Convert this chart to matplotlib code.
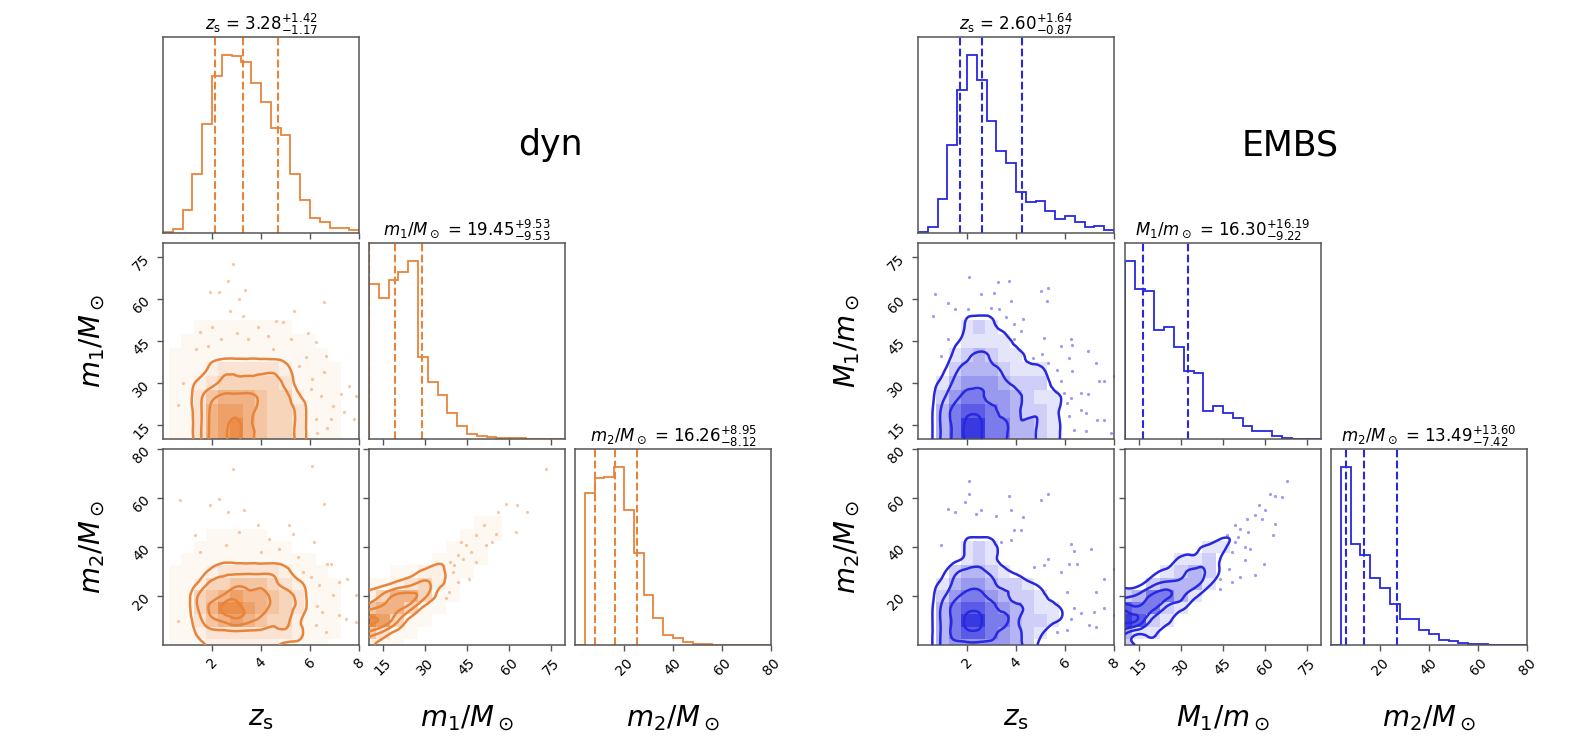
import numpy as np
import matplotlib.pyplot as plt
import matplotlib.tri as mtri
from matplotlib.colors import LinearSegmentedColormap

# ---- 1D marginals: 20 bins each (heights) ----
DYN_Z_HIST = [2, 12, 68, 178, 328, 472, 535, 532, 512, 450, 392, 315, 295, 178, 100, 45, 32, 14, 14, 8]
DYN_M1_HIST = [466, 423, 478, 501, 535, 245, 171, 131, 78, 38, 16, 8, 5, 4, 3, 2, 1, 0, 0, 0]
DYN_M2_HIST = [0, 457, 500, 505, 535, 405, 275, 150, 80, 30, 20, 10, 3, 2, 1, 1, 0, 0, 1, 0]
EMBS_Z_HIST = [3, 18, 102, 265, 432, 537, 462, 338, 248, 210, 124, 92, 97, 65, 43, 52, 32, 18, 22, 10]
EMBS_M1_HIST = [535, 451, 445, 328, 337, 275, 203, 198, 85, 98, 78, 63, 40, 23, 23, 8, 3, 1, 0, 0]
EMBS_M2_HIST = [0, 535, 303, 270, 200, 170, 123, 77, 77, 45, 32, 15, 12, 7, 3, 2, 0.5, 0, 0, 0]

# median, +err, -err
DYN_Q = [(3.28, 1.42, 1.17), (19.45, 9.53, 9.53), (16.26, 8.95, 8.12)]
EMBS_Q = [(2.60, 1.64, 0.87), (16.30, 16.19, 9.22), (13.49, 13.60, 7.42)]

DYN_LABELS = [r"$z_{\rm s}$", r"$m_1/M_\odot$", r"$m_2/M_\odot$"]
EMBS_LABELS = [r"$z_{\rm s}$", r"$M_1/m_\odot$", r"$m_2/M_\odot$"]

RANGES = [(0, 8), (10, 80), (0, 80)]
TICKS = [[2, 4, 6, 8], [15, 30, 45, 60, 75], [20, 40, 60, 80]]

# ---- 2D densities on coarse nodes (z step 0.5, masses step 5), top row = highest y ----
DYN_Z_M1 = """
00000000000000000
00000000000000000
00000000000000000
00000000000000000
00000000000000000
00000000000000000
00011111111000000
00111111111110000
01111111111111000
01112333332111100
01123444443111100
01135666544211100
01136776544311100
01136786544311100
01136786544311100
"""

DYN_Z_M2 = """
00000000000000000
00000000000000000
00000000000000000
00000000000000000
00000000000000000
00000000000000000
00000000000000000
00001111100000000
00011111111000000
00111111111110000
01112333332111000
01124455543211100
01145676654311100
01146887654311100
01135676544211100
01123333333211100
01112222221111000
"""

DYN_M1_M2 = """
000000000000000
000000000000000
000000000000000
000000000000000
000000000000000
000000000000000
000000001100000
000000011100000
000000111000000
000001111000000
001122110000000
112342100000000
246641100000000
566411000000000
874110000000000
531100000000000
211000000000000
"""

EMBS_Z_M1 = """
00000000000000000
00000000000000000
00000000000000000
00000000000000000
00000000000000000
00001110000000000
00002321000000000
00012222100000000
00023432210000000
00134443222000000
01245554333100000
01356655432210000
01467765433210000
01468866443210000
01468866443210000
"""

EMBS_Z_M2 = """
00000000000000000
00000000000000000
00000000000000000
00000000000000000
00000000000000000
00000000000000000
00000000000000000
00001110000000000
00002321000000000
00012321000000000
00134432100000000
01245543321000000
01356654332100000
01467765432210000
01468866433210000
01467765432000000
01455555431000000
"""

EMBS_M1_M2 = """
000000000000000
000000000000000
000000000000000
000000000000000
000000000000000
000000000000000
000000000000000
000000011000000
000001220000000
000022310000000
001234310000000
113444200000000
346642000000000
766320000000000
873200000000000
422000000000000
310000000000000
"""

# ---- scattered samples outside the contours ----
DYN_Z_M1_PTS = [(2.64, 66.5), (2.85, 72.5), (3.36, 63.3), (1.9, 62.4), (2.3, 62.6), (3.12, 60),
                (2.74, 55.8), (3.25, 54), (5.36, 55.8), (6.58, 58.8), (4.88, 51.9), (3.86, 49.9),
                (4.3, 46.9), (5.22, 45.7), (5.83, 39.2), (6.24, 44.5), (6.64, 39.8), (6.58, 33.8),
                (6.03, 27.9), (6.44, 25.5), (6.92, 21.9), (7.25, 26.1), (7.6, 29), (7.39, 19.5),
                (7.86, 25.5), (6.85, 17.1), (6.24, 17.1), (7.8, 17.1), (3.46, 45.7), (2.37, 45.7),
                (1.83, 43.3), (1.36, 42.1), (1.49, 48.1), (4.47, 42.1), (5.56, 36.2), (6.1, 31.4),
                (0.8, 30), (0.6, 22), (6.3, 12), (6.7, 14), (5.9, 48), (4.6, 52), (2.0, 50), (3.0, 48)]
DYN_Z_M2_PTS = [(6.1, 73.2), (6.58, 57.6), (2.85, 71.9), (2.3, 59.7), (2.64, 54.2), (3.32, 54.9),
                (1.9, 57), (3.86, 48.8), (5.15, 48.8), (5.29, 45.4), (6.17, 42), (4.34, 43.4),
                (3.12, 46.1), (2.58, 40.7), (4.75, 39.3), (5.7, 29.8), (6.03, 27.8), (6.71, 33.2),
                (6.85, 33.2), (6.37, 24.4), (7.19, 25.8), (7.53, 27.1), (6.51, 13.6), (6.92, 20.3),
                (7.46, 10.8), (7.19, 12.2), (7.86, 9.5), (6.24, 8.1), (6.64, 5.4), (7.86, 20.3),
                (0.68, 59), (1.29, 44.7), (0.6, 10), (6.3, 16), (5.5, 36), (4.0, 38), (1.5, 38)]
DYN_M1_M2_PTS = [(73.1, 71.9), (63, 57), (66.6, 54.2), (58.9, 57.6), (55.9, 54.2), (51.2, 48.8),
                 (55.3, 45.4), (62.4, 46.1), (48.2, 44.7), (42.9, 42), (44.6, 40.7), (46.4, 38),
                 (41.7, 36.6), (48.2, 33.9), (51.8, 40.7), (54.1, 42), (39.9, 29.8), (41.7, 25.8),
                 (38.7, 21.7), (45.8, 27.1), (37.5, 19), (40.5, 32.5), (43.5, 35), (39, 34)]
EMBS_Z_M1_PTS = [(2.1, 67.7), (3.25, 65.9), (3.7, 66.3), (2.58, 61.7), (3.12, 62.3), (3.8, 59.3),
                 (5.02, 62.9), (5.26, 59.3), (5.29, 64.1), (2.03, 56.3), (2.98, 56.9), (3.32, 56.3),
                 (3.59, 53.4), (3.93, 51), (4.27, 52.8), (4.2, 48.6), (3.93, 45.6), (5.15, 46.2),
                 (5.83, 43.2), (6.24, 45.6), (6.3, 43.4), (6.17, 39), (6.92, 41.4), (7.25, 37.2),
                 (5.08, 40.2), (4.68, 39), (5.29, 37.2), (5.69, 34.8), (6.3, 34.2), (5.83, 30.7),
                 (7.39, 30.7), (7.6, 30.7), (8.0, 32.4), (5.97, 26.5), (6.24, 24.7), (6.64, 26.5),
                 (6.92, 25.9), (6.1, 22.9), (6.64, 20.5), (6.17, 18.1), (6.85, 19.3), (7.32, 16.9),
                 (7.6, 16.9), (6.37, 13.3), (6.85, 12.7), (7.86, 12.1), (0.68, 61.7), (1.22, 58.7),
                 (0.61, 54), (1.49, 56.3), (1.22, 45.6), (0.95, 39.6)]
EMBS_Z_M2_PTS = [(2.1, 67.1), (2.1, 61.7), (3.73, 61), (5.29, 61.7), (5.02, 59), (2.58, 54.9),
                 (3.19, 52.6), (3.8, 54.9), (4.27, 52.2), (2.37, 53.6), (3.93, 46.8), (3.8, 42.7),
                 (4.2, 46.8), (3.39, 42), (6.24, 41.4), (6.37, 38.2), (7.05, 39.3), (5.29, 35.3),
                 (5.15, 32.5), (5.83, 29.8), (6.17, 33.2), (6.51, 33.2), (4.75, 31.9), (6.1, 21.7),
                 (7.25, 21.7), (7.59, 27.1), (8.0, 31.2), (6.37, 14.9), (6.64, 12.9), (6.24, 10.8),
                 (7.19, 13.6), (7.59, 14.9), (6.98, 8.1), (7.25, 7.5), (5.69, 5.4), (6.1, 6.1),
                 (8.0, 12.2), (1.9, 58.3), (1.22, 55.6), (1.49, 54.2), (0.95, 40.7)]
EMBS_M1_M2_PTS = [(67.8, 67.1), (61.8, 61.7), (66, 60.3), (63.6, 61), (57.7, 57), (60, 54.9),
                  (58.9, 51.5), (56.5, 52.9), (53.5, 51.5), (49.4, 48.8), (51.2, 47.5), (54.1, 46.1),
                  (54.7, 39.3), (59.5, 33.2), (49.4, 42), (48.2, 38), (52.9, 34.6), (56.5, 28.5),
                  (47, 31.2), (44, 27.1), (44, 23), (48.2, 25.8), (51.2, 27.8), (63, 44.7),
                  (63.6, 49.5), (50.5, 44), (46.5, 45), (53, 40)]

ORANGE = "#e8843a"
BLUE = "#2828e0"
LEVELS = [1.5, 3.5, 5.5, 7.5]
W, H = 1590, 752

Z_NODES = np.arange(0, 8.01, 0.5)
M1_NODES = np.arange(10, 80.01, 5)
M2_NODES = np.arange(0, 80.01, 5)
NODES = [Z_NODES, M1_NODES, M2_NODES]


def parse_grid(text):
    rows = [r.strip() for r in text.strip().splitlines()]
    return np.array([[int(c) for c in r] for r in rows[::-1]], dtype=float)


def grid_triangulation(xn, yn):
    # two triangles per cell, built in index space so the cubic refiner sees square cells
    nx, ny = len(xn), len(yn)
    ii, jj = np.meshgrid(np.arange(nx), np.arange(ny))
    tris = []
    for j in range(ny - 1):
        for i in range(nx - 1):
            a = j * nx + i
            tris.append([a, a + 1, a + nx + 1])
            tris.append([a, a + nx + 1, a + nx])
    return mtri.Triangulation(ii.ravel().astype(float), jj.ravel().astype(float), np.array(tris))


def style_axes(ax):
    for s in ax.spines.values():
        s.set_color("#555555")
        s.set_linewidth(1.1)
    ax.tick_params(direction="out", length=4, width=1, color="#555555", labelsize=10)


def draw_hist(ax, i, vals, q, label, color):
    lo, hi = RANGES[i]
    edges = np.linspace(lo, hi, len(vals) + 1)
    ax.stairs(vals, edges, color=color, lw=1.3)
    med, up, dn = q
    for v in (med - dn, med, med + up):
        ax.axvline(v, color=color, ls="--", lw=1.5)
    ax.set_xlim(lo, hi)
    ax.set_ylim(0, 1.1 * max(vals))
    ax.set_yticks([])
    ax.set_xticks(TICKS[i])
    ax.set_title(f"{label} = ${med:.2f}^{{+{up:.2f}}}_{{-{dn:.2f}}}$", fontsize=12, pad=3)


def shade_strength(grid, halo):
    # white -> colour ramp; the outer band stays faint, like corner's density shading
    t = 0.06 + 0.86 * np.clip((grid - 1) / 7, 0, 1) ** 1.3
    t = np.where(grid >= 1, t, 0)
    return np.ma.masked_less(np.where(grid < 1.5, t * (1 if halo else 0), t), 0.01)


def draw_2d(ax, i, j, grid_text, pts, color, halo):
    grid = parse_grid(grid_text)
    xn, yn = NODES[i], NODES[j]
    cmap = LinearSegmentedColormap.from_list("dens", ["white", color])
    ax.pcolormesh(xn, yn, shade_strength(grid, halo), cmap=cmap, vmin=0, vmax=1,
                  shading="nearest", zorder=1)
    px, py = zip(*pts)
    ax.plot(px, py, "o", ms=2.3, color=color, alpha=0.45, mec="none", zorder=2)

    tri = grid_triangulation(xn, yn)
    refiner = mtri.UniformTriRefiner(tri)
    fine, fine_z = refiner.refine_field(grid.ravel(), subdiv=3)
    dx, dy = xn[1] - xn[0], yn[1] - yn[0]
    fine = mtri.Triangulation(xn[0] + fine.x * dx, yn[0] + fine.y * dy, fine.triangles)
    ax.tricontour(fine, fine_z, levels=LEVELS, colors=[color], linewidths=1.8, zorder=3)

    ax.set_xlim(*RANGES[i])
    ax.set_ylim(*RANGES[j])
    ax.set_xticks(TICKS[i])
    ax.set_yticks(TICKS[j])


def corner(fig, x0s, y0s, hists, qs, grids, pts, labels, color, halo):
    size = 196
    for r in range(3):
        for c in range(r + 1):
            ax = fig.add_axes([x0s[c] / W, 1 - (y0s[r] + size) / H, size / W, size / H])
            style_axes(ax)
            if r == c:
                draw_hist(ax, c, hists[c], qs[c], labels[c], color)
            else:
                draw_2d(ax, c, r, grids[(c, r)], pts[(c, r)], color, halo)
            if r == 2:
                for t in ax.get_xticklabels():
                    t.set_rotation(45)
            else:
                ax.set_xticklabels([])
            if c == 0 and r > 0:
                for t in ax.get_yticklabels():
                    t.set_rotation(45)
            elif r != c:
                ax.set_yticklabels([])
    for c in range(3):
        fig.text((x0s[c] + size / 2) / W, 1 - 718 / H, labels[c], fontsize=20,
                 ha="center", va="center")
    for r in (1, 2):
        fig.text((x0s[0] - 71) / W, 1 - (y0s[r] + size / 2) / H, labels[r], fontsize=20,
                 ha="center", va="center", rotation=90)


fig = plt.figure(figsize=(W / 100, H / 100), dpi=100)

ROWS = [37, 243, 449]

corner(fig, [163, 369, 575], ROWS,
       [DYN_Z_HIST, DYN_M1_HIST, DYN_M2_HIST], DYN_Q,
       {(0, 1): DYN_Z_M1, (0, 2): DYN_Z_M2, (1, 2): DYN_M1_M2},
       {(0, 1): DYN_Z_M1_PTS, (0, 2): DYN_Z_M2_PTS, (1, 2): DYN_M1_M2_PTS},
       DYN_LABELS, ORANGE, True)

corner(fig, [918, 1125, 1331], ROWS,
       [EMBS_Z_HIST, EMBS_M1_HIST, EMBS_M2_HIST], EMBS_Q,
       {(0, 1): EMBS_Z_M1, (0, 2): EMBS_Z_M2, (1, 2): EMBS_M1_M2},
       {(0, 1): EMBS_Z_M1_PTS, (0, 2): EMBS_Z_M2_PTS, (1, 2): EMBS_M1_M2_PTS},
       EMBS_LABELS, BLUE, False)

fig.text(550 / W, 1 - 145 / H, "dyn", fontsize=25, ha="center", va="center")
fig.text(1290 / W, 1 - 145 / H, "EMBS", fontsize=25, ha="center", va="center")

fig.savefig("out.png", dpi=100)
